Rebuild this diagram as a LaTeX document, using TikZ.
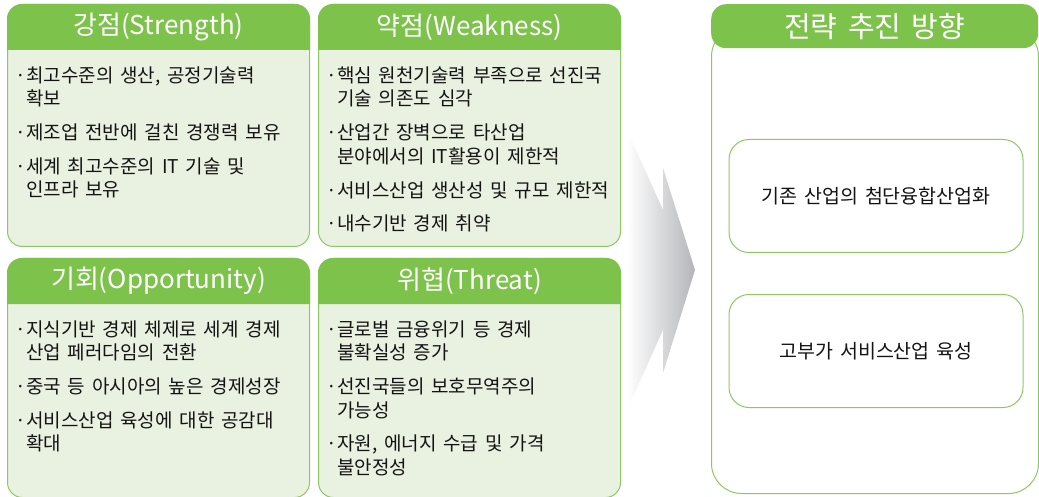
\documentclass[tikz,border=0pt]{standalone}
\usepackage{fontspec}
\setmainfont[WordSpace=1.6]{Noto Sans CJK KR}
\usetikzlibrary{shapes,positioning}

\definecolor{headgreen}{HTML}{7DC24B}
\definecolor{bodygreen}{HTML}{E9F1E0}
\definecolor{linegreen}{HTML}{8DC963}
\definecolor{arrowgray}{HTML}{B4B5B9}
\definecolor{textblack}{HTML}{141414}

\newcommand{\dotitem}[1]{\makebox[11pt][l]{·}#1}
\newcommand{\dotmore}[1]{\hspace*{11pt}#1}

\begin{document}
\begin{tikzpicture}[x=1pt, y=-1pt,
    swotbox/.style={draw=linegreen, line width=1pt, fill=bodygreen, rounded corners=15pt, minimum width=302pt, anchor=north west},
    swothead/.style={text=white, font=\fontsize{26}{30}\selectfont, inner sep=0pt},
    swottext/.style={align=left, anchor=north west, inner sep=0pt, text=textblack, font=\fontsize{19}{23.5}\selectfont},
    ideabox/.style={draw=linegreen, line width=1pt, rounded corners=20pt, minimum width=294pt, minimum height=113pt, text=textblack, font=\fontsize{19.5}{22}\selectfont}]

    \useasboundingbox (0,0) rectangle (1039,497);

    % SWOT boxes
    \node (Strength) [swotbox, minimum height=242pt] at (7,4) {};
    \node (Weakness) [swotbox, minimum height=242pt, right=8pt of Strength] {};
    \node (Opportunity) [swotbox, minimum height=239pt, below=11pt of Strength] {};
    \node (Threat) [swotbox, minimum height=239pt, right=8pt of Opportunity] {};

    % Headers
    \foreach \swot/\title in {Strength/강점(Strength), Weakness/약점(Weakness), Opportunity/기회(Opportunity), Threat/위협(Threat)} {
        \fill[headgreen] ([yshift=-46pt]\swot.north west) [rounded corners=15pt] -- (\swot.north west) -- (\swot.north east) [sharp corners] -- ([yshift=-46pt]\swot.north east) -- cycle;
        \node (\swot Head) [swothead] at ([yshift=-23pt]\swot.north) {\title};
    }

    % Items
    \node (StrengthText) [swottext, below right=62.5pt and 8pt of Strength.north west] {
        \dotitem{최고수준의 생산, 공정기술력}\\
        \dotmore{확보}\\[10.5pt]
        \dotitem{제조업 전반에 걸친 경쟁력 보유}\\[10pt]
        \dotitem{세계 최고수준의 IT 기술 및}\\
        \dotmore{인프라 보유}};
    \node (WeaknessText) [swottext, below right=62.5pt and 8pt of Weakness.north west] {
        \dotitem{핵심 원천기술력 부족으로 선진국}\\
        \dotmore{기술 의존도 심각}\\[10.5pt]
        \dotitem{산업간 장벽으로 타산업}\\
        \dotmore{분야에서의 IT활용이 제한적}\\[10.5pt]
        \dotitem{서비스산업 생산성 및 규모 제한적}\\[10pt]
        \dotitem{내수기반 경제 취약}};
    \node (OpportunityText) [swottext, below right=62.5pt and 8pt of Opportunity.north west] {
        \dotitem{지식기반 경제 체제로 세계 경제}\\
        \dotmore{산업 페러다임의 전환}\\[10.5pt]
        \dotitem{중국 등 아시아의 높은 경제성장}\\[10pt]
        \dotitem{서비스산업 육성에 대한 공감대}\\
        \dotmore{확대}};
    \node (ThreatText) [swottext, below right=62.5pt and 8pt of Threat.north west] {
        \dotitem{글로벌 금융위기 등 경제}\\
        \dotmore{불확실성 증가}\\[10.5pt]
        \dotitem{선진국들의 보호무역주의}\\
        \dotmore{가능성}\\[10pt]
        \dotitem{자원, 에너지 수급 및 가격}\\
        \dotmore{불안정성}};

    % Arrow
    \shade[left color=white, right color=arrowgray] (627,130) -- (663,210) -- (663,168) -- (695,270) -- (663,373) -- (663,330) -- (627,410) -- cycle;

    % Strategy panel
    \node (Plan) [draw=linegreen, line width=1pt, rounded corners=30pt, minimum width=327pt, minimum height=467pt, anchor=north west] at (711,26) {};
    \node (PlanHead) [fill=headgreen, rounded corners=15pt, minimum width=327pt, minimum height=44pt, anchor=north west, text=white, font=\fontsize{29}{32}\selectfont] at (711,4) {전략 추진 방향};
    \node (Idea1) [ideabox] at (876,196) {기존 산업의 첨단융합산업화};
    \node (Idea2) [ideabox, below=41pt of Idea1] {고부가 서비스산업 육성};

\end{tikzpicture}
\end{document}
